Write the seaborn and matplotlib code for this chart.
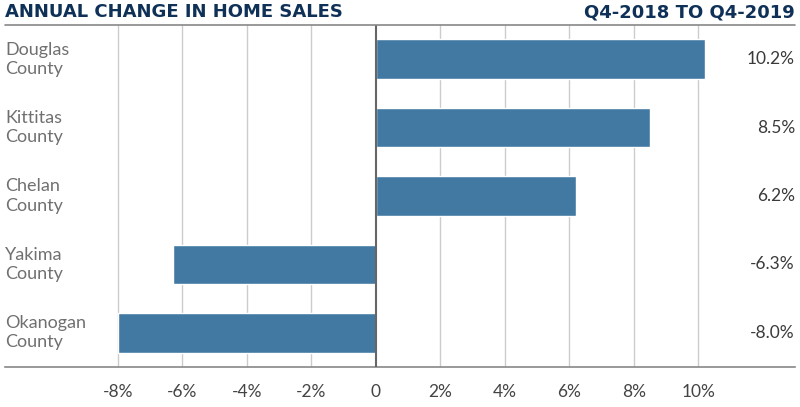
import matplotlib
matplotlib.use("Agg")
import matplotlib.pyplot as plt
import seaborn as sns
import pandas as pd

counties = ["Douglas\nCounty", "Kittitas\nCounty", "Chelan\nCounty", "Yakima\nCounty", "Okanogan\nCounty"]
changes = [10.2, 8.5, 6.2, -6.3, -8.0]
tick_values = [-8, -6, -4, -2, 0, 2, 4, 6, 8, 10]
tick_labels = ["-8%", "-6%", "-4%", "-2%", "0", "2%", "4%", "6%", "8%", "10%"]

df = pd.DataFrame({"county": counties, "change": changes})

sns.set_style("white")
plt.rcParams["font.family"] = ["Lato", "DejaVu Sans"]

fig = plt.figure(figsize=(8, 4.07), dpi=100)
ax = fig.add_axes([5 / 800, 1 - 367 / 407, 790 / 800, 342 / 407])

sns.barplot(data=df, x="change", y="county", orient="h", color="#4279a3",
            saturation=1, width=0.58, ax=ax, zorder=3)

ax.set_xlim(-11.5, 13.0)
ax.set_ylim(4.5, -0.5)
ax.set_xticks(tick_values)
ax.set_xticklabels(tick_labels, fontsize=12.5, color="#444444")
ax.tick_params(axis="x", length=0, pad=12)
ax.set_yticks([])
ax.set_xlabel("")
ax.set_ylabel("")

for v in tick_values:
    ax.axvline(v, color="#666666" if v == 0 else "#cccccc",
               lw=1.5 if v == 0 else 1, zorder=1 if v else 4)

for s in ["left", "right", "top"]:
    ax.spines[s].set_visible(False)
ax.spines["bottom"].set_color("#888888")
ax.spines["bottom"].set_linewidth(1.2)

for i, (name, val) in enumerate(zip(counties, changes)):
    ax.text(-11.5, i, name, ha="left", va="center", fontsize=13,
            color="#707070", linespacing=1.25)
    ax.text(13.0, i, f"{val:.1f}%", ha="right", va="center", fontsize=12.5,
            color="#3a3a3a")

fig.add_artist(plt.Line2D([5 / 800, 795 / 800], [1 - 25 / 407, 1 - 25 / 407],
                          color="#888888", lw=1.2))
fig.text(5 / 800, 1 - 12 / 407, "ANNUAL CHANGE IN HOME SALES", ha="left", va="center",
         fontsize=13, fontweight="bold", color="#0f3157", family=["DejaVu Sans"])
fig.text(795 / 800, 1 - 12 / 407, "Q4-2018 TO Q4-2019", ha="right", va="center",
         fontsize=13, fontweight="bold", color="#0f3157", family=["DejaVu Sans"])

fig.savefig("out.png", dpi=100)
